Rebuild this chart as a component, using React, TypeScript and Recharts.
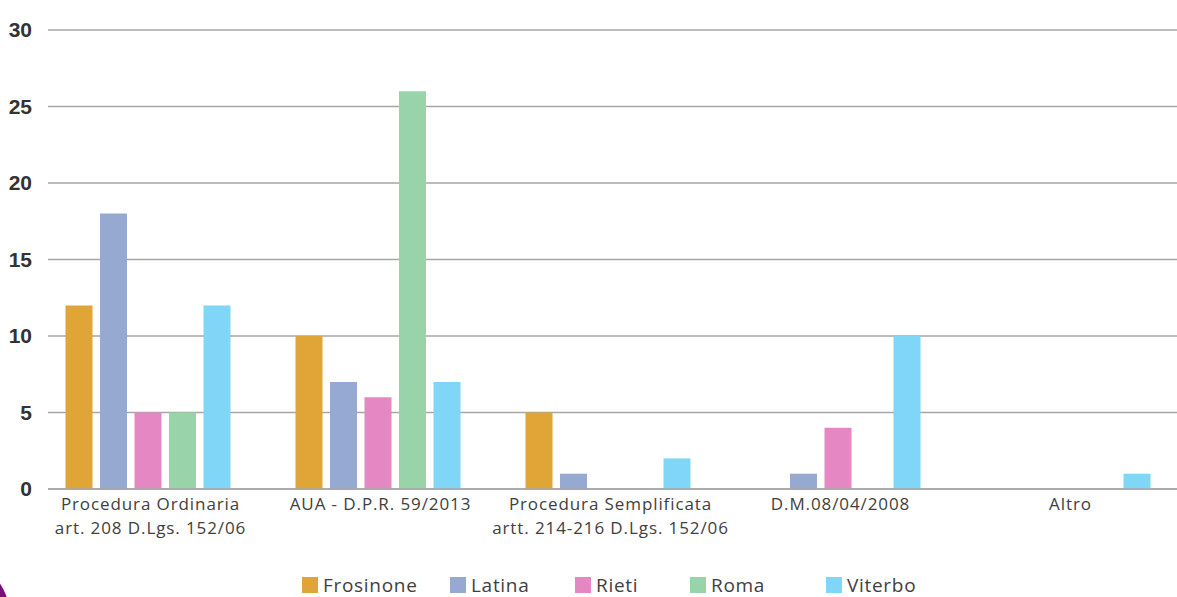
import { BarChart, Bar, XAxis, YAxis, CartesianGrid } from 'recharts';

const categories = [
  ['Procedura Ordinaria', 'art. 208 D.Lgs. 152/06'],
  ['AUA - D.P.R. 59/2013'],
  ['Procedura Semplificata', 'artt. 214-216 D.Lgs. 152/06'],
  ['D.M.08/04/2008'],
  ['Altro'],
];
const provinces = ['Frosinone', 'Latina', 'Rieti', 'Roma', 'Viterbo'];
const frosinone = [12, 10, 5, 0, 0];
const latina = [18, 7, 1, 1, 0];
const rieti = [5, 6, 0, 4, 0];
const roma = [5, 26, 0, 0, 0];
const viterbo = [12, 7, 2, 10, 1];
const yTicks = [0, 5, 10, 15, 20, 25, 30];

const colors = ['#dfa536', '#96a9d0', '#e487c3', '#99d3aa', '#80d6f6'];
const series = [frosinone, latina, rieti, roma, viterbo];

const data = categories.map((c, i) => {
  const row: Record<string, any> = { cat: c.join('|') };
  provinces.forEach((p, j) => { row[p] = series[j][i]; });
  return row;
});

const labelFont = '"Open Sans", "Lato", sans-serif';

function CatTick(props: any) {
  const { x, y, payload } = props;
  const lines = String(payload.value).split('|');
  return (
    <text x={x + 3} y={y + 13} textAnchor="middle" fill="#404040" fontSize={17} letterSpacing={0.9} fontFamily={labelFont}>
      {lines.map((l, i) => (
        <tspan key={i} x={x + 3} dy={i === 0 ? 0 : 24}>{l}</tspan>
      ))}
    </text>
  );
}

// posizioni della legenda come nell'originale
const legendX = [302, 450, 575, 690, 826];

export default function App() {
  return (
    <div style={{ position: 'absolute', left: 0, top: 0, width: 1177, height: 597, overflow: 'hidden', background: '#fff' }}>
      <BarChart width={1177} height={560} data={data} barSize={27} barGap={7.5}
        margin={{ top: 30, right: 0, bottom: 41, left: 0 }}>
        <CartesianGrid vertical={false} stroke="#a6a6a6" strokeWidth={1.5} />
        <XAxis dataKey="cat" tick={<CatTick />} tickLine={false} interval={0}
          axisLine={{ stroke: '#a6a6a6', strokeWidth: 1.5 }} padding={{ left: -15.5, right: -5.5 }} />
        <YAxis width={48} domain={[0, 30]} ticks={yTicks} axisLine={false} tickLine={false}
          tick={{ fontSize: 21, fontWeight: 700, fill: '#333', fontFamily: 'Arial, "Liberation Sans", sans-serif' }}
          tickMargin={10} />
        {provinces.map((p, j) => (
          <Bar key={p} dataKey={p} fill={colors[j]} isAnimationActive={false} />
        ))}
      </BarChart>
      {provinces.map((p, j) => (
        <div key={p} style={{ position: 'absolute', left: legendX[j], top: 575, display: 'flex', alignItems: 'center',
          fontFamily: labelFont, fontSize: 19, letterSpacing: 0.7, color: '#404040', lineHeight: '20px' }}>
          <span style={{ width: 16, height: 16, background: colors[j], display: 'inline-block', marginRight: 5 }} />
          {p}
        </div>
      ))}
      <div style={{ position: 'absolute', left: -124, top: 553, width: 135, height: 135, borderRadius: '50%', background: '#7b0f7a' }} />
    </div>
  );
}
